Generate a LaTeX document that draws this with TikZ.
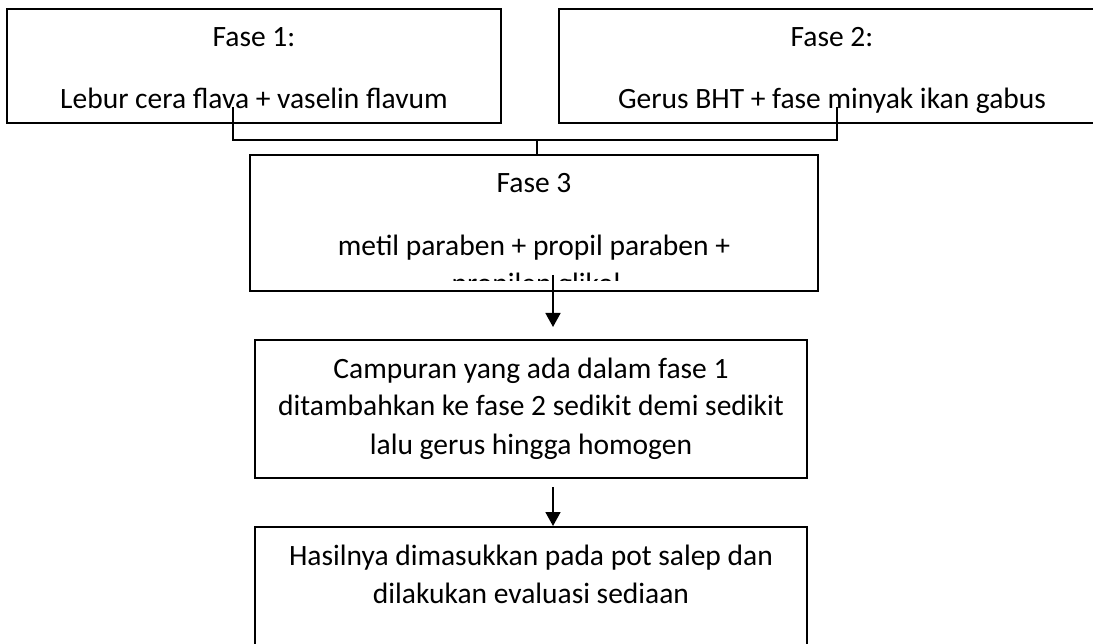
\documentclass[tikz,border=0pt]{standalone}
\usepackage{fontspec}
\setmainfont{Carlito}
\usetikzlibrary{arrows.meta}
\begin{document}
\begin{tikzpicture}[x=1pt,y=-1pt,
  box/.style={draw=black,line width=1.7pt,rectangle,inner sep=0pt,anchor=center},
  txt/.style={anchor=base,inner sep=0pt,font=\fontsize{29.5}{38}\selectfont},
  conn/.style={draw=black,line width=1.7pt},
  arr/.style={draw=black,line width=1.7pt,-{Triangle[width=15pt,length=14pt]}}]
\useasboundingbox (0,0) rectangle (1093,644);
\begin{scope}
\clip (0,0) rectangle (1093,644);
% boxes
\node[box,minimum width=494pt,minimum height=114pt] (b1) at (254,66) {};
\node[box,minimum width=546pt,minimum height=114pt] (b2) at (832,66) {};
\node[box,minimum width=568pt,minimum height=136pt] (b3) at (534,223) {};
\node[box,minimum width=552pt,minimum height=138pt] (b4) at (531,409) {};
\node[box,minimum width=552pt,minimum height=160pt] (b5) at (531,607) {};
% texts
\node[txt] (t1a) at (254,47) {Fase 1:};
\node[txt] (t1b) at (254,109) {Lebur cera flava + vaselin flavum};
\node[txt] (t2a) at (832,47) {Fase 2:};
\node[txt] (t2b) at (832,109) {Gerus BHT + fase minyak ikan gabus};
\node[txt] (t3a) at (534,193) {Fase 3};
\node[txt] (t3b) at (534,256) {metil paraben + propil paraben +};
\begin{scope}
\clip (250,155) rectangle (818,280.5);
\node[txt] (t3c) at (536,293.5) {propilen glikol};
\end{scope}
\node[txt] (t4a) at (531,378) {Campuran yang ada dalam fase 1};
\node[txt] (t4b) at (531,416) {ditambahkan ke fase 2 sedikit demi sedikit};
\node[txt] (t4c) at (531,454) {lalu gerus hingga homogen};
\node[txt] (t5a) at (531,565) {Hasilnya dimasukkan pada pot salep dan};
\node[txt] (t5b) at (531,603) {dilakukan evaluasi sediaan};
% connectors
\coordinate (c1) at (233,107);
\coordinate (c1h) at (233,140);
\coordinate (c2) at (837,107);
\coordinate (c2h) at (837,140);
\coordinate (cj) at (537,140);
\coordinate (cj3) at (537,155);
\draw[conn] (c1) -- (c1h) -- (c2h) -- (c2);
\draw[conn] (cj) -- (cj3);
\coordinate (a1s) at (553,275);
\coordinate (a1e) at (553,327);
\coordinate (a2s) at (553,487);
\coordinate (a2e) at (553,526);
\draw[arr] (a1s) -- (a1e);
\draw[arr] (a2s) -- (a2e);
\end{scope}
\end{tikzpicture}
\end{document}
